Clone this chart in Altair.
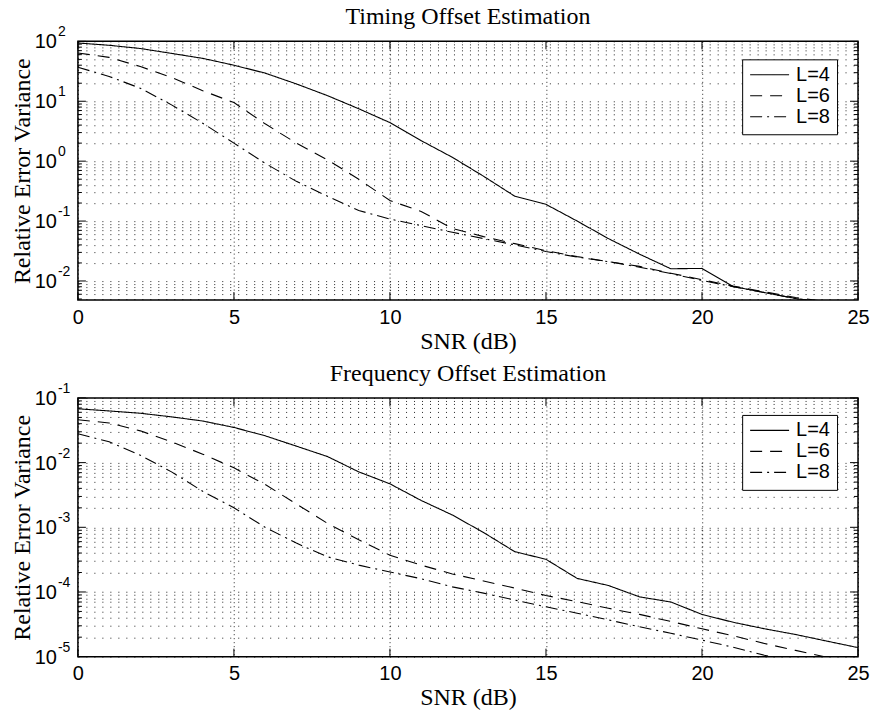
import altair as alt
import pandas as pd

# ---------------- data ----------------
snr = list(range(26))
series_names = ["L=4", "L=6", "L=8"]

timing_L4 = [94, 86, 76, 63, 52, 40, 29.5, 19.5, 12.4, 7.5, 4.4, 2.2, 1.16, 0.56,
             0.26, 0.19, 0.1, 0.051, 0.028, 0.016, 0.0162, 0.0081, 0.0064, 0.0051,
             0.0042, 0.0036]
timing_L6 = [64, 54, 38, 25, 15, 9.5, 4.2, 2.0, 1.05, 0.5, 0.22, 0.145, 0.075, 0.055,
             0.042, 0.032, 0.0255, 0.021, 0.0175, 0.0135, 0.0105, 0.0082, 0.0066,
             0.0053, 0.0045, 0.0039]
timing_L8 = [37, 26, 16.5, 8.7, 4.3, 2.0, 0.92, 0.46, 0.26, 0.15, 0.108, 0.084, 0.065,
             0.051, 0.040, 0.031, 0.025, 0.021, 0.017, 0.0133, 0.0102, 0.008, 0.0064,
             0.0051, 0.0043, 0.0037]

freq_L4 = [0.068, 0.063, 0.058, 0.051, 0.044, 0.035, 0.026, 0.018, 0.0124, 0.0072,
           0.0047, 0.0026, 0.00155, 0.00083, 0.00042, 0.00032, 0.000162, 0.000126,
           0.000084, 0.00007, 0.000045, 0.000034, 0.000027, 0.000022, 0.0000174,
           0.0000138]
freq_L6 = [0.046, 0.041, 0.031, 0.021, 0.0135, 0.0083, 0.0046, 0.0023, 0.00115,
           0.00064, 0.00037, 0.00026, 0.00019, 0.000148, 0.000115, 0.000088,
           0.000071, 0.000056, 0.000045, 0.000035, 0.000027, 0.000021, 0.000016,
           0.0000125, 0.0000098, 0.0000078]
freq_L8 = [0.028, 0.021, 0.013, 0.0072, 0.0036, 0.002, 0.001, 0.00057, 0.00035,
           0.00026, 0.000204, 0.00016, 0.00012, 0.000096, 0.000075, 0.000059,
           0.000047, 0.000037, 0.000029, 0.000023, 0.000018, 0.000014, 0.0000105,
           0.0000082, 0.0000064, 0.000005]

x_ticks = [0, 5, 10, 15, 20, 25]
titles = ["Timing Offset Estimation", "Frequency Offset Estimation"]

W, H = 781, 259
SERIF = "Liberation Serif"
SANS = "Liberation Sans"


def log_ticks(lo, hi):
    major, minor, exps = [], [], []
    for k in range(-7, 4):
        for m in range(1, 10):
            v = float(f"{m}e{k}")
            if lo * 0.999 <= v <= hi * 1.001:
                if m == 1:
                    major.append(v)
                    exps.append(str(k))
                else:
                    minor.append(v)
    return major, minor, exps


def panel(title, s4, s6, s8, ymin, ymax, legend_y):
    df = pd.DataFrame({
        "snr": snr * 3,
        "v": s4 + s6 + s8,
        "series": [n for n in series_names for _ in snr],
    })
    major, minor, exps = log_ticks(ymin, ymax)
    xs = alt.Scale(domain=[0, 25], nice=False, zero=False)
    ys = alt.Scale(type="log", domain=[ymin, ymax], nice=False)

    xenc = alt.X("snr:Q", scale=xs, axis=alt.Axis(
        values=x_ticks, title="SNR (dB)", grid=True, gridDash=[1, 3],
        gridColor="black", gridOpacity=0.85, ticks=False, tickSize=0, domain=False,
        labelFont=SANS, labelFontSize=20, labelPadding=7, labelColor="black",
        labelFlush=False,
        titleFont=SERIF, titleFontSize=24, titleFontWeight="normal",
        titlePadding=2, titleColor="black"))
    yenc = alt.Y("v:Q", scale=ys, axis=alt.Axis(
        values=major + minor, grid=True, gridDash=[1, 7], gridColor="black",
        gridOpacity=0.85, labels=False, ticks=False, domain=False,
        title="Relative Error Variance", titleFont=SERIF, titleFontSize=24,
        titleFontWeight="normal", titleColor="black", titleX=-48, titleY=H / 2,
        titleAngle=270, titleBaseline="alphabetic", titleAlign="center"))

    lines = alt.Chart(df).mark_line(clip=True, color="black", strokeWidth=1.1).encode(
        x=xenc, y=yenc,
        strokeDash=alt.StrokeDash("series:N", scale=alt.Scale(
            domain=series_names, range=[[1, 0], [12, 8], [12, 5, 2, 5]]),
            legend=alt.Legend(
                title=None, orient="none", legendX=665, legendY=legend_y,
                symbolType="stroke", symbolSize=1521, symbolStrokeWidth=1.1,
                symbolStrokeColor="black", labelFont=SANS, labelFontSize=20,
                labelColor="black", strokeColor="black", fillColor="white",
                padding=7, rowPadding=0, clipHeight=17, labelOffset=6,
                cornerRadius=0)),
    )

    xt_df = pd.DataFrame({"snr": x_ticks})
    xt_bottom = alt.Chart(xt_df).mark_rule(color="black", strokeWidth=1).encode(
        x=xenc, y=alt.value(H), y2=alt.value(H - 8))
    xt_top = alt.Chart(xt_df).mark_rule(color="black", strokeWidth=1).encode(
        x=xenc, y=alt.value(0), y2=alt.value(8))

    maj_df = pd.DataFrame({"v": major, "base": ["10"] * len(major), "exp": exps})
    min_df = pd.DataFrame({"v": minor})
    yt = []
    for d, ln in ((maj_df, 8), (min_df, 4)):
        yt.append(alt.Chart(d).mark_rule(color="black", strokeWidth=1).encode(
            y=yenc, x=alt.value(0), x2=alt.value(ln)))
        yt.append(alt.Chart(d).mark_rule(color="black", strokeWidth=1).encode(
            y=yenc, x=alt.value(W), x2=alt.value(W - ln)))

    base = alt.Chart(maj_df).mark_text(
        align="right", baseline="middle", font=SANS, fontSize=20, dy=1,
        color="black").encode(y=yenc, x=alt.value(-21), text="base:N")
    exp = alt.Chart(maj_df).mark_text(
        align="left", baseline="middle", font=SANS, fontSize=14, dy=-9,
        color="black").encode(y=yenc, x=alt.value(-20), text="exp:N")

    ttl = alt.Chart(pd.DataFrame({"t": [title]})).mark_text(
        align="center", baseline="alphabetic", font=SERIF, fontSize=24,
        color="black").encode(text="t:N", x=alt.value(W / 2), y=alt.value(-17))

    return alt.layer(lines, xt_bottom, xt_top, *yt, base, exp, ttl).properties(
        width=W, height=H)


top = panel(titles[0], timing_L4, timing_L6, timing_L8, 0.0048, 100, 18)
bottom = panel(titles[1], freq_L4, freq_L6, freq_L8, 1e-5, 1e-1, 17)

chart = alt.vconcat(top, bottom, spacing=7).resolve_scale(
    strokeDash="independent"
).properties(
    padding={"left": 10, "top": 4, "right": 0, "bottom": 3},
    background="white",
).configure_view(stroke="black", strokeWidth=1.5)

chart.save("out.html", embed_options={"renderer": "svg", "actions": False})
